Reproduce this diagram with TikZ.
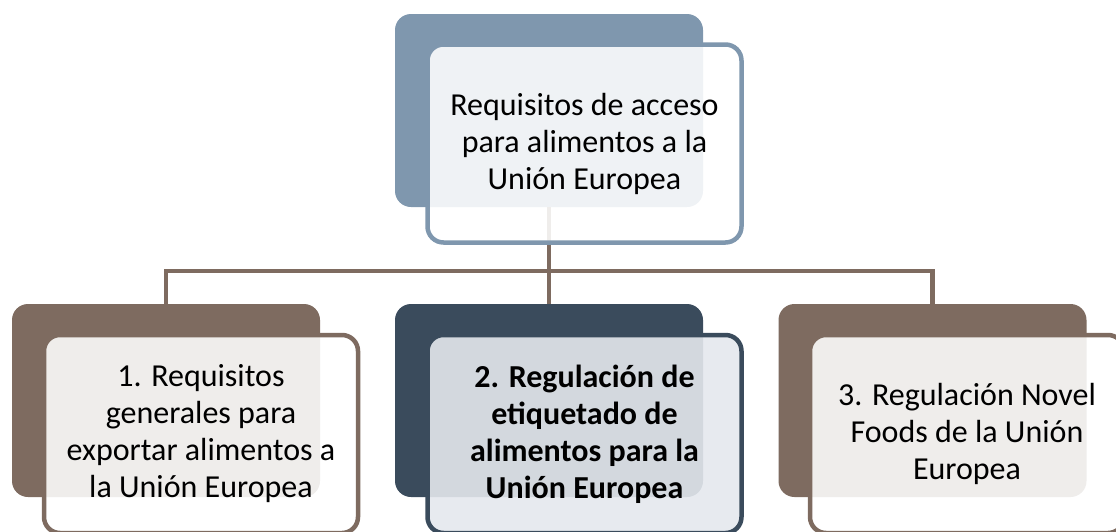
\documentclass[tikz,border=0pt]{standalone}
\usepackage{fontspec}
\setmainfont{Carlito}
\usepackage{tikz}
\usetikzlibrary{positioning}

\definecolor{topblue}{HTML}{7F97AE}
\definecolor{mudbrown}{HTML}{7E6B60}
\definecolor{slatedark}{HTML}{3A4B5C}
\definecolor{slatelight}{HTML}{E4E8ED}

\tikzset{
  backbox/.style={rounded corners=16pt, minimum width=308pt, minimum height=193pt, inner sep=0pt},
  frontbox/.style={rounded corners=16pt, line width=4.5pt, fill=white, fill opacity=0.88, text opacity=1,
    minimum width=314pt, minimum height=198pt, inner sep=0pt, align=center,
    font=\fontsize{32}{37}\selectfont},
  link/.style={draw=mudbrown, line width=4.5pt}
}

\begin{document}
\begin{tikzpicture}[x=1pt, y=-1pt]
\useasboundingbox (0,0) rectangle (1116,531);

% back cards
\node[backbox, fill=topblue] at (549,110.5)(topback){};
\node[backbox, fill=mudbrown] at (166,400.5)(lback){};
\node[backbox, fill=slatedark] at (549,400.5)(mback){};
\node[backbox, fill=mudbrown] at (932.5,400.5)(rback){};

% connectors
\coordinate (bar) at (549,271);
\draw[link] (topback.south) -- (mback.north);
\draw[link] (lback.north) |- (bar) -| (rback.north);

% front cards
\node[frontbox, draw=topblue] at (584.5,143.5)(top){Requisitos de acceso\\para alimentos a la\\Unión Europea};
\node[frontbox, draw=mudbrown] at (201,434)(req){1. Requisitos\\generales para\\exportar alimentos a\\la Unión Europea};
\node[frontbox, draw=slatedark, fill=slatelight, fill opacity=0.9] at (584.5,434)(label){\bfseries 2. Regulación de\\\bfseries etiquetado de\\\bfseries alimentos para la\\\bfseries Unión Europea};
\node[frontbox, draw=mudbrown] at (967,434)(novel){3. Regulación Novel\\Foods de la Unión\\Europea};
\end{tikzpicture}
\end{document}
